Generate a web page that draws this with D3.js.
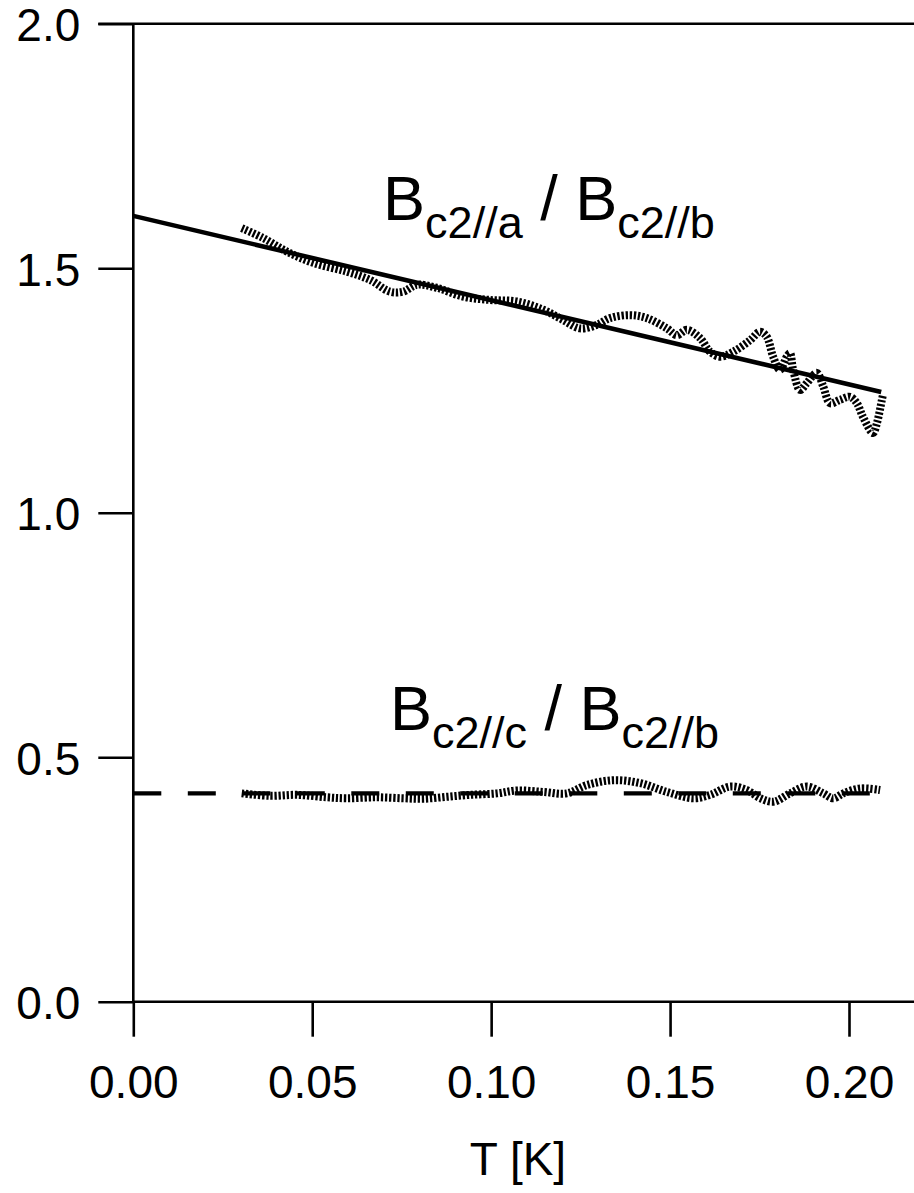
<!DOCTYPE html>
<html>
<head>
<meta charset="utf-8">
<script src="https://cdn.jsdelivr.net/npm/d3@7"></script>
<style>
  html, body { margin: 0; padding: 0; background: #fff; }
  svg { display: block; }
  text { font-family: "Liberation Sans", Arial, Helvetica, sans-serif; fill: #000; }
</style>
</head>
<body>
<svg id="chart" width="914" height="1193"></svg>
<script>
// Upper-critical-field anisotropy ratios vs temperature

// Bc2//a / Bc2//b measured ratio
const tempA = [0.0303, 0.0362, 0.0429, 0.0502, 0.0596, 0.0662, 0.0717, 0.0754, 0.0792, 0.0848,
  0.0921, 0.0997, 0.1072, 0.1146, 0.1201, 0.1248, 0.1295, 0.1332, 0.1388, 0.1435,
  0.1491, 0.1519, 0.1547, 0.1584, 0.1612, 0.1640, 0.1676, 0.1724, 0.1751, 0.1770,
  0.1788, 0.1807, 0.1826, 0.1835, 0.1844, 0.1863, 0.1882, 0.1910, 0.1928, 0.1947,
  0.1975, 0.2003, 0.2022, 0.2039, 0.2067, 0.2078, 0.2092, 0.2095];
const ratioA = [1.582, 1.562, 1.534, 1.511, 1.493, 1.476, 1.452, 1.452, 1.466, 1.460,
  1.442, 1.435, 1.432, 1.415, 1.394, 1.377, 1.384, 1.398, 1.404, 1.398,
  1.377, 1.363, 1.374, 1.357, 1.329, 1.319, 1.329, 1.353, 1.370, 1.360,
  1.319, 1.292, 1.319, 1.326, 1.292, 1.251, 1.265, 1.286, 1.258, 1.224,
  1.231, 1.237, 1.224, 1.196, 1.163, 1.183, 1.231, 1.241];

// Bc2//c / Bc2//b measured ratio
const tempC = [0.0303, 0.0382, 0.0457, 0.0541, 0.0596, 0.0680, 0.0754, 0.0810, 0.0876, 0.0941,
  0.1016, 0.1072, 0.1146, 0.1211, 0.1267, 0.1342, 0.1416, 0.1491, 0.1565, 0.1612,
  0.1668, 0.1714, 0.1752, 0.1789, 0.1835, 0.1882, 0.1928, 0.1956, 0.1984, 0.2031, 0.2087];
const ratioC = [0.426, 0.421, 0.423, 0.418, 0.416, 0.418, 0.416, 0.415, 0.419, 0.423,
  0.426, 0.432, 0.429, 0.426, 0.443, 0.453, 0.447, 0.429, 0.416, 0.423,
  0.440, 0.433, 0.416, 0.409, 0.426, 0.440, 0.426, 0.416, 0.426, 0.436, 0.433];

// Linear fit for a/b and constant level for c/b
const fitTempA = [0, 0.209];
const fitRatioA = [1.607, 1.247];
const fitTempC = [0, 0.21];
const fitRatioC = [0.426, 0.426];

const xTicks = [0, 0.05, 0.10, 0.15, 0.20];
const yTicks = [0, 0.5, 1.0, 1.5, 2.0];

const width = 914, height = 1193;
const svg = d3.select("#chart");

const x = d3.scaleLinear().domain([0, 0.2]).range([133.3, 849]);
const y = d3.scaleLinear().domain([0, 2]).range([1001.7, 23.7]);

const axisStroke = 2.6;
const tickLen = 35;
const fontSize = 46;

// Bottom axis
const gx = svg.append("g")
  .attr("transform", `translate(0,${y(0)})`)
  .call(d3.axisBottom(x).tickValues(xTicks).tickSize(tickLen).tickSizeOuter(0)
    .tickPadding(29).tickFormat(d3.format(".2f")));
gx.select(".domain").remove();
gx.selectAll(".tick line").attr("stroke", "#000").attr("stroke-width", axisStroke);
gx.selectAll(".tick text").attr("font-size", fontSize)
  .attr("font-family", "Liberation Sans, Arial, sans-serif");

// Left axis
const gy = svg.append("g")
  .attr("transform", `translate(${x(0)},0)`)
  .call(d3.axisLeft(y).tickValues(yTicks).tickSize(tickLen).tickSizeOuter(0)
    .tickPadding(18).tickFormat(d3.format(".1f")));
gy.select(".domain").remove();
gy.selectAll(".tick line").attr("stroke", "#000").attr("stroke-width", axisStroke);
gy.selectAll(".tick text").attr("font-size", fontSize).attr("dy", "0.37em")
  .attr("font-family", "Liberation Sans, Arial, sans-serif");

// Frame lines: left spine, bottom spine, top border
svg.append("line").attr("x1", x(0)).attr("x2", x(0)).attr("y1", y(2)).attr("y2", y(0))
  .attr("stroke", "#000").attr("stroke-width", axisStroke);
svg.append("line").attr("x1", x(0)).attr("x2", width).attr("y1", y(0)).attr("y2", y(0))
  .attr("stroke", "#000").attr("stroke-width", axisStroke);
svg.append("line").attr("x1", x(0) - tickLen).attr("x2", width).attr("y1", y(2)).attr("y2", y(2))
  .attr("stroke", "#000").attr("stroke-width", axisStroke);

// Axis title
svg.append("text")
  .attr("x", 518).attr("y", 1175)
  .attr("text-anchor", "middle")
  .attr("font-size", fontSize)
  .text("T [K]");

const straight = d3.line().x(d => x(d[0])).y(d => y(d[1]));

// Measured curves (dense dotted)
const seriesA = tempA.map((t, i) => [t, ratioA[i]]);
const seriesC = tempC.map((t, i) => [t, ratioC[i]]);
const noisyLine = d3.line().x(d => x(d[0])).y(d => y(d[1])).curve(d3.curveCatmullRom.alpha(0.5));

svg.append("path").datum(seriesA)
  .attr("d", noisyLine)
  .attr("fill", "none").attr("stroke", "#000")
  .attr("stroke-width", 8).attr("stroke-dasharray", "2.3,1.8");

svg.append("path").datum(seriesC)
  .attr("d", noisyLine)
  .attr("fill", "none").attr("stroke", "#000")
  .attr("stroke-width", 8).attr("stroke-dasharray", "2.3,1.8");

// Fit lines
svg.append("path").datum(fitTempA.map((t, i) => [t, fitRatioA[i]]))
  .attr("d", straight)
  .attr("fill", "none").attr("stroke", "#000").attr("stroke-width", 4.6);

svg.append("path").datum(fitTempC.map((t, i) => [t, fitRatioC[i]]))
  .attr("d", straight)
  .attr("fill", "none").attr("stroke", "#000").attr("stroke-width", 4.4)
  .attr("stroke-dasharray", "28,26.5");

// Curve labels with subscripts
function ratioLabel(tx, ry, subA, subB) {
  const t = svg.append("text")
    .attr("x", x(tx)).attr("y", y(ry))
    .attr("font-size", 63);
  t.append("tspan").text("B");
  t.append("tspan").attr("font-size", 45).attr("dy", 18).text(subA);
  t.append("tspan").attr("dy", -18).text(" / B");
  t.append("tspan").attr("font-size", 45).attr("dy", 18).text(subB);
}
ratioLabel(0.0698, 1.599, "c2//a", "c2//b");
ratioLabel(0.0717, 0.5556, "c2//c", "c2//b");
</script>
</body>
</html>
